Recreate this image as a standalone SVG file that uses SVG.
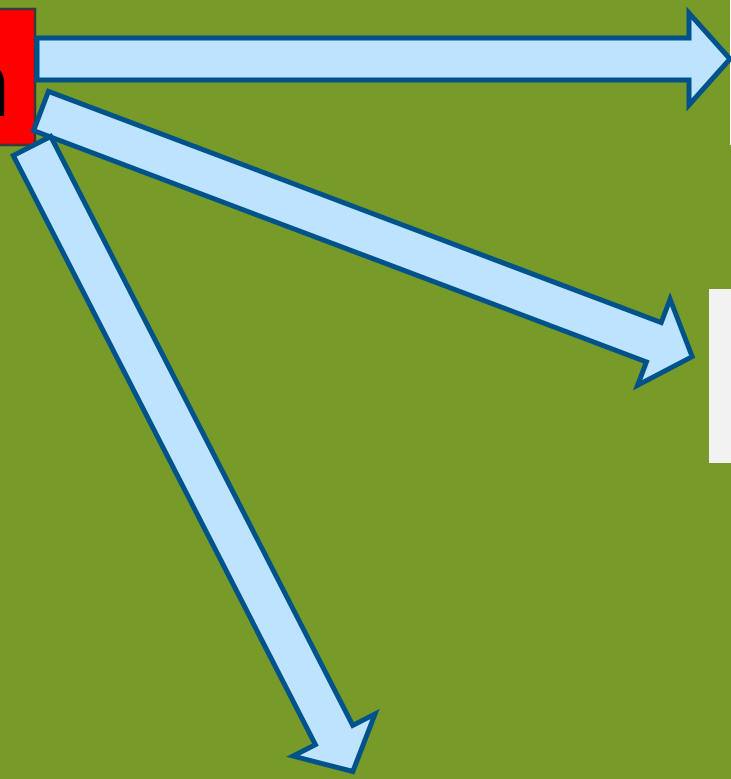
<svg xmlns="http://www.w3.org/2000/svg" width="731" height="779" viewBox="0 0 731 779">
<style>
.arrow{fill:#BEE3FF;stroke:#00528A;stroke-width:5;stroke-linejoin:miter;stroke-miterlimit:10}
.lbl{font-family:"Liberation Sans",Arial,sans-serif;font-size:90px;fill:#000}
</style>
<rect x="0" y="0" width="731" height="779" fill="#789A29"/>
<g id="node-white">
<rect x="730" y="-5" width="6" height="150" fill="#FFFFFF"/>
</g>
<g id="node-gray">
<rect x="709" y="289" width="30" height="174" fill="#F2F2F2"/>
</g>
<g id="node-red">
<rect x="-20" y="9" width="55" height="136" fill="#FF0000" stroke="#3A3A3A" stroke-width="2.5"/>
<text class="lbl" x="10" y="116" text-anchor="end">n</text>
</g>
<g id="connectors">
<path class="arrow" transform="translate(37,59)" d="M0,-21 L652,-21 L652,-46 L693,0 L652,46 L652,21 L0,21 Z"/>
<path class="arrow" transform="translate(41,111) rotate(20.67)" d="M0,-21 L655,-21 L655,-46 L696,0 L655,46 L655,21 L0,21 Z"/>
<path class="arrow" transform="translate(32,146) rotate(62.85)" d="M0,-21 L662,-21 L662,-46 L703,0 L662,46 L662,21 L0,21 Z"/>
</g>
</svg>
